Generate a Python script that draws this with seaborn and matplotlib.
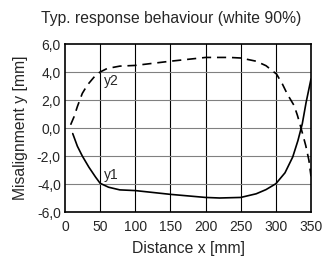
import numpy as np
import pandas as pd
import seaborn as sns
import matplotlib.pyplot as plt
from matplotlib.ticker import FuncFormatter

# distance x [mm] and misalignment [mm]
x_y1 = [11, 17.6, 24.6, 34, 43.4, 50, 62, 78, 100, 150, 200, 220, 250, 272,
        286, 300, 313, 324, 331.4, 337.6, 343, 350]
y1 = [-0.4, -1.3, -2.0, -2.8, -3.5, -3.95, -4.23, -4.42, -4.47, -4.74, -4.96,
      -5.0, -4.96, -4.7, -4.4, -3.98, -3.2, -2.07, -0.9, 0.3, 1.82, 3.5]
x_y2 = [8, 13, 17.6, 24.6, 31.7, 43.4, 50, 60, 78, 100, 150, 200, 234, 250,
        272, 286, 301, 309.5, 316.5, 326, 330.7, 335.4, 342.5, 347, 350]
y2 = [0.23, 0.82, 1.53, 2.47, 3.06, 3.76, 4.0, 4.25, 4.42, 4.47, 4.77, 5.04,
      5.04, 5.0, 4.77, 4.45, 3.85, 3.12, 2.4, 1.6, 0.9, 0.07, -1.25, -2.3, -3.45]

df1 = pd.DataFrame({"x": x_y1, "y": y1})
df2 = pd.DataFrame({"x": x_y2, "y": y2})

sns.set_style("white")
plt.rcParams['font.family'] = ['Liberation Sans', 'DejaVu Sans']

fig, ax = plt.subplots(figsize=(3.35, 2.58), dpi=100)
fig.subplots_adjust(left=65 / 335, right=311 / 335, top=1 - 44 / 258, bottom=1 - 212 / 258)

sns.lineplot(data=df1, x="x", y="y", ax=ax, color="black", linewidth=1.2)
sns.lineplot(data=df2, x="x", y="y", ax=ax, color="black", linewidth=1.2,
             linestyle=(0, (5.5, 3.5)))

ax.set_xlim(0, 350)
ax.set_ylim(-6, 6)
ax.set_xticks(range(0, 351, 50))
ax.set_yticks(range(-6, 7, 2))
ax.yaxis.set_major_formatter(FuncFormatter(lambda v, p: f"{v:.1f}".replace(".", ",")))
ax.tick_params(axis="x", length=0, labelsize=10, pad=6)
ax.tick_params(axis="y", length=0, labelsize=10, pad=3)

for v in range(50, 350, 50):
    ax.axvline(v, color="black", linewidth=0.8, zorder=0)
for v in range(-4, 6, 2):
    ax.axhline(v, color="#808080", linewidth=0.8, zorder=0)

for s in ax.spines.values():
    s.set_color("black")
    s.set_linewidth(1.2)

ax.text(55, 3.35, "y2", fontsize=10, ha="left", va="center")
ax.text(55, -3.35, "y1", fontsize=10, ha="left", va="center")

fig.text(171 / 335, 1 - 18 / 258, "Typ. response behaviour (white 90%)",
         fontsize=11.3, ha="center", va="center")
ax.set_xlabel("Distance x [mm]", fontsize=11.3, labelpad=5)
ax.set_ylabel("Misalignment y [mm]", fontsize=11.3, labelpad=6)

fig.savefig("out.png", dpi=100)
